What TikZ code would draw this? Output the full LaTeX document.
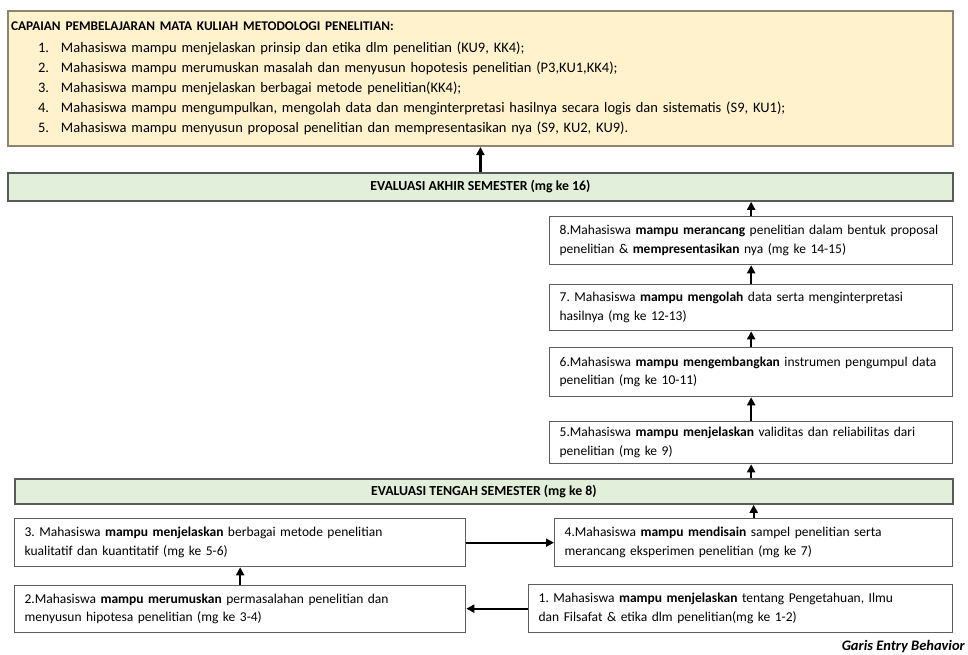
\documentclass[tikz,border=0pt]{standalone}
\usepackage{fontspec}
\setmainfont{Carlito}
\usetikzlibrary{arrows.meta}
\definecolor{topfill}{HTML}{FFF2CC}
\definecolor{topline}{HTML}{8C8570}
\definecolor{evfill}{HTML}{E2EFDA}
\definecolor{evline}{HTML}{595959}
\definecolor{boxline}{HTML}{5E5E5E}
\frenchspacing
\begin{document}
\begin{tikzpicture}[x=1pt,y=-1pt,
  stepbox/.style={draw=boxline, line width=1.3pt, fill=white, anchor=north west,
    align=left, inner xsep=10pt, inner ysep=0pt,
    font=\fontsize{13.5}{18.5}\selectfont},
  evbox/.style={draw=evline, line width=1.8pt, fill=evfill, anchor=north west,
    align=center, inner sep=0pt, font=\fontsize{13.8}{15}\selectfont\bfseries},
  topbox/.style={draw=topline, line width=2pt, fill=topfill, anchor=north west,
    align=left, inner xsep=3pt, inner ysep=0pt, font=\fontsize{14.5}{20}\selectfont},
  arr/.style={line width=2.2pt, -{Triangle[length=8pt,width=8pt]}},
  note/.style={font=\fontsize{14.5}{16}\selectfont\bfseries\itshape, anchor=base west, inner sep=0pt}
]
\useasboundingbox (0,0) rectangle (968,654);
\fill[white] (0,0) rectangle (968,654);

\node[topbox, minimum width=945pt, minimum height=135pt, text width=939pt] (top) at (7,10)
 {\mbox{\fontsize{13.3}{14}\selectfont\bfseries CAPAIAN PEMBELAJARAN MATA KULIAH METODOLOGI PENELITIAN:}\\[2pt]
  \hspace*{27pt}\makebox[23pt][l]{1.}Mahasiswa mampu menjelaskan prinsip dan etika dlm penelitian (KU9, KK4);\\
  \hspace*{27pt}\makebox[23pt][l]{2.}Mahasiswa mampu merumuskan masalah dan menyusun hopotesis penelitian (P3,KU1,KK4);\\
  \hspace*{27pt}\makebox[23pt][l]{3.}Mahasiswa mampu menjelaskan berbagai metode penelitian(KK4);\\
  \hspace*{27pt}\makebox[23pt][l]{4.}Mahasiswa mampu mengumpulkan, mengolah data dan menginterpretasi hasilnya secara logis dan sistematis (S9, KU1);\\
  \hspace*{27pt}\makebox[23pt][l]{5.}Mahasiswa mampu menyusun proposal penelitian dan mempresentasikan nya (S9, KU2, KU9).\\[16pt]};

\node[evbox, minimum width=945pt, minimum height=28pt] (eva) at (7,172) {EVALUASI AKHIR SEMESTER (mg ke 16)};

\node[stepbox, minimum width=403pt, minimum height=48pt, text width=383pt] (b8) at (549,216)
 {8.Mahasiswa \textbf{mampu merancang} penelitian dalam bentuk proposal\\
  penelitian \& \textbf{mempresentasikan} nya (mg ke 14-15)};
\node[stepbox, minimum width=403pt, minimum height=46pt, text width=383pt] (b7) at (549,284)
 {7. Mahasiswa \textbf{mampu mengolah} data serta menginterpretasi\\
  hasilnya (mg ke 12-13)};
\node[stepbox, minimum width=403pt, minimum height=49pt, text width=383pt] (b6) at (549,347)
 {6.Mahasiswa \textbf{mampu mengembangkan} instrumen pengumpul data\\
  penelitian (mg ke 10-11)};
\node[stepbox, minimum width=403pt, minimum height=42pt, text width=383pt] (b5) at (549,421)
 {5.Mahasiswa \textbf{mampu menjelaskan} validitas dan reliabilitas dari\\
  penelitian (mg ke 9)};

\node[evbox, minimum width=938pt, minimum height=25pt] (evt) at (14,478) {EVALUASI TENGAH SEMESTER (mg ke 8)};

\node[stepbox, minimum width=451pt, minimum height=48pt, text width=431pt] (b3) at (14,518)
 {3. Mahasiswa \textbf{mampu menjelaskan} berbagai metode penelitian\\
  kualitatif dan kuantitatif (mg ke 5-6)};
\node[stepbox, minimum width=398pt, minimum height=48pt, text width=378pt] (b4) at (554,518)
 {4.Mahasiswa \textbf{mampu mendisain} sampel penelitian serta\\
  merancang eksperimen penelitian (mg ke 7)};
\node[stepbox, minimum width=451pt, minimum height=47pt, text width=431pt] (b2) at (14,585)
 {2.Mahasiswa \textbf{mampu merumuskan} permasalahan penelitian dan\\
  menyusun hipotesa penelitian (mg ke 3-4)};
\node[stepbox, minimum width=424pt, minimum height=48pt, text width=404pt] (b1) at (528,584)
 {1. Mahasiswa \textbf{mampu menjelaskan} tentang Pengetahuan, Ilmu\\
  dan Filsafat \& etika dlm penelitian(mg ke 1-2)};

\node[note, anchor=base east] (garis) at (965,650) {Garis Entry Behavior};

\draw[arr] (eva.north) -- (eva.north |- top.south);
\draw[arr] (b8.north) -- (b8.north |- eva.south);
\draw[arr] (b7.north) -- (b7.north |- b8.south);
\draw[arr] (b6.north) -- (b6.north |- b7.south);
\draw[arr] (b5.north) -- (b5.north |- b6.south);
\draw[arr] (b5.south |- evt.north) -- (b5.south);
\draw[arr] (b4.north) -- (b4.north |- evt.south);
\draw[arr] (b3.east) -- (b3.east -| b4.west);
\draw[arr] (b2.north) -- (b2.north |- b3.south);
\draw[arr] (b1.west) -- (b1.west -| b2.east);
\end{tikzpicture}
\end{document}
